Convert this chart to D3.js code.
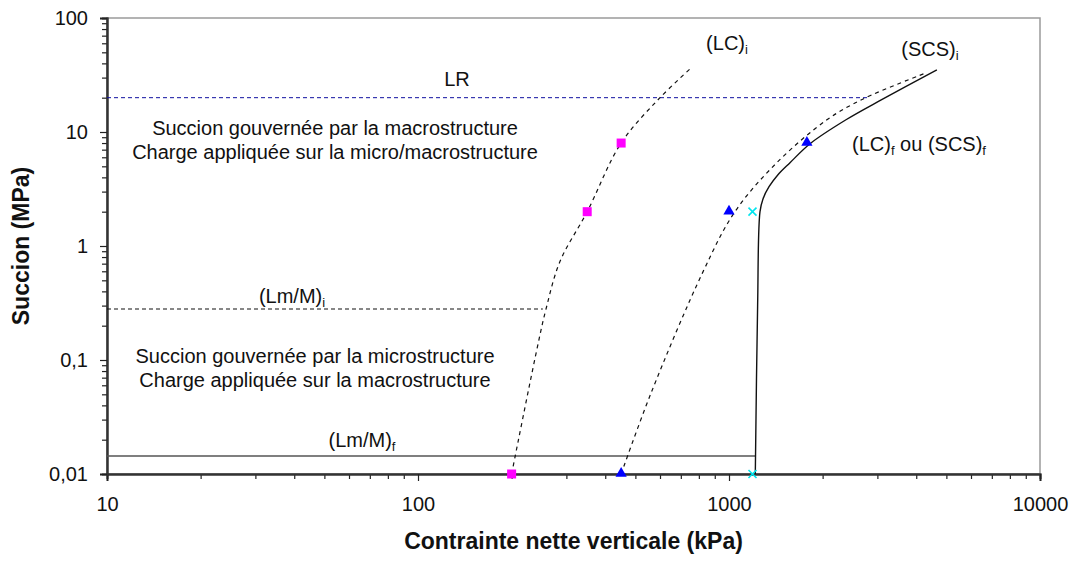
<!DOCTYPE html>
<html lang="fr">
    <head>
        <meta charset="utf-8">
        <title>Succion - contrainte nette verticale</title>
        <script src="https://d3js.org/d3.v7.min.js"></script>
        <style type="text/css">
            body{
                margin: 0;
                background: white;
            }
            text{
                font-family: "Liberation Sans", Arial, sans-serif;
                fill: #111;
            }
            .ticklab{
                font-size: 20px;
            }
            .title{
                font-size: 23px;
                font-weight: bold;
            }
            .note{
                font-size: 20px;
            }
        </style>
    </head>
    <body>
        <script type="text/javascript">

            // axis ticks
            const xTicks = [10, 100, 1000, 10000];
            const xTickLabels = ["10", "100", "1000", "10000"];
            const yTicks = [0.01, 0.1, 1, 10, 100];
            const yTickLabels = ["0,01", "0,1", "1", "10", "100"];

            // (LC)i dashed curve
            const lcInitX = [200, 241, 258, 286, 350, 450, 600, 760];
            const lcInitY = [0.01, 0.123, 0.28, 0.73, 2, 8, 20, 37];

            // (SCS)i dashed curve
            const scsInitX = [450, 561, 824, 1045, 1427, 2065, 2700, 4300];
            const scsInitY = [0.01, 0.051, 0.59, 2, 5.4, 12.8, 19.5, 33];

            // (LC)f ou (SCS)f solid curve
            const finalX = [1215, 1236, 1258, 1287, 1345, 1437, 1571, 1822, 2378, 3097, 4660];
            const finalY = [0.01, 0.3, 2, 2.6, 3.31, 4.22, 5.38, 7.89, 12.8, 19.2, 35];

            // horizontal limits
            const lrX = [10, 2800];
            const lrY = [20, 20];
            const lmInitX = [10, 252];
            const lmInitY = [0.28, 0.28];
            const lmFinalX = [10, 1215];
            const lmFinalY = [0.0144, 0.0144];

            // measured points
            const squareX = [200, 350, 450];
            const squareY = [0.01, 2, 8];
            const triangleX = [450, 1000, 1780];
            const triangleY = [0.01, 2, 8];
            const crossX = [1190, 1190];
            const crossY = [0.01, 2];

            const w = 1077;
            const h = 561;
            const margin = {top: 18, right: 37, bottom: 87, left: 107};
            const iw = w - margin.left - margin.right;
            const ih = h - margin.top - margin.bottom;

            const svg = d3.select("body")
                    .append("svg")
                    .attr("width", w)
                    .attr("height", h);

            const x = d3.scaleLog().domain([10, 10000]).range([0, iw]);
            const y = d3.scaleLog().domain([0.01, 100]).range([ih, 0]);

            const g = svg.append("g")
                    .attr("transform", "translate(" + margin.left + "," + margin.top + ")");

            // frame (top + right in grey)
            g.append("rect")
                .attr("width", iw)
                .attr("height", ih)
                .attr("fill", "none")
                .attr("stroke", "#9a9a9a")
                .attr("stroke-width", 1.5);

            // minor ticks 2..9 per decade
            const minorX = [];
            for (let d = 10; d < 10000; d *= 10) for (let k = 2; k <= 9; k++) minorX.push(d * k);
            const minorY = [];
            for (let d = 0.01; d < 99; d *= 10) for (let k = 2; k <= 9; k++) minorY.push(+(d * k).toPrecision(3));

            const xMinor = g.append("g")
                .attr("transform", "translate(0," + ih + ")")
                .call(d3.axisBottom(x).tickValues(minorX).tickSize(5).tickFormat(""));
            const xMajor = g.append("g")
                .attr("transform", "translate(0," + ih + ")")
                .call(d3.axisBottom(x).tickValues(xTicks).tickSize(7).tickPadding(16)
                    .tickFormat((d, i) => xTickLabels[i]));

            const yMinor = g.append("g")
                .call(d3.axisLeft(y).tickValues(minorY).tickSize(5).tickFormat(""));
            const yMajor = g.append("g")
                .call(d3.axisLeft(y).tickValues(yTicks).tickSize(7).tickPadding(12)
                    .tickFormat((d, i) => yTickLabels[i]));

            [xMinor, xMajor, yMinor, yMajor].forEach(a => {
                a.select(".domain").attr("stroke", "#333").attr("stroke-width", 2);
                a.selectAll(".tick line").attr("stroke", "#222").attr("stroke-width", 1.2);
                a.selectAll(".tick text").attr("class", "ticklab").attr("font-family", null).attr("font-size", null);
            });

            // lines
            const lineSmooth = d3.line()
                .x(d => x(d[0]))
                .y(d => y(d[1]))
                .curve(d3.curveCatmullRom.alpha(0.5));
            const lineStraight = d3.line()
                .x(d => x(d[0]))
                .y(d => y(d[1]));

            const zipXY = (xs, ys) => xs.map((v, i) => [v, ys[i]]);

            g.append("path")
                .attr("d", lineStraight(zipXY(lrX, lrY)))
                .attr("fill", "none")
                .attr("stroke", "#1010a0")
                .attr("stroke-width", 1)
                .attr("stroke-dasharray", "4,3");

            g.append("path")
                .attr("d", lineStraight(zipXY(lmInitX, lmInitY)))
                .attr("fill", "none")
                .attr("stroke", "#111")
                .attr("stroke-width", 1.1)
                .attr("stroke-dasharray", "4,3");

            g.append("path")
                .attr("d", lineStraight(zipXY(lmFinalX, lmFinalY)))
                .attr("fill", "none")
                .attr("stroke", "#555")
                .attr("stroke-width", 1.6);

            g.append("path")
                .attr("d", lineSmooth(zipXY(lcInitX, lcInitY)))
                .attr("fill", "none")
                .attr("stroke", "#111")
                .attr("stroke-width", 1.2)
                .attr("stroke-dasharray", "4,4");

            g.append("path")
                .attr("d", lineSmooth(zipXY(scsInitX, scsInitY)))
                .attr("fill", "none")
                .attr("stroke", "#111")
                .attr("stroke-width", 1.2)
                .attr("stroke-dasharray", "4,4");

            g.append("path")
                .attr("d", lineSmooth(zipXY(finalX, finalY)))
                .attr("fill", "none")
                .attr("stroke", "#111")
                .attr("stroke-width", 1.4);

            // markers
            g.selectAll("rect.sq")
                .data(zipXY(squareX, squareY))
                .enter()
                .append("rect")
                .attr("class", "sq")
                .attr("x", d => x(d[0]) - 4.5)
                .attr("y", d => y(d[1]) - 4.5)
                .attr("width", 9)
                .attr("height", 9)
                .attr("fill", "#ff00ff");

            const tri = d3.symbol().type(d3.symbolTriangle).size(55);
            g.selectAll("path.tri")
                .data(zipXY(triangleX, triangleY))
                .enter()
                .append("path")
                .attr("class", "tri")
                .attr("d", tri)
                .attr("transform", d => "translate(" + x(d[0]) + "," + (y(d[1]) - 0.5) + ")")
                .attr("fill", "#0000ff");

            g.selectAll("path.cross")
                .data(zipXY(crossX, crossY))
                .enter()
                .append("path")
                .attr("class", "cross")
                .attr("d", "M-4,-4L4,4M-4,4L4,-4")
                .attr("transform", d => "translate(" + x(d[0]) + "," + y(d[1]) + ")")
                .attr("stroke", "#00e5ee")
                .attr("stroke-width", 1.6);

            // labels with subscripts
            function subLabel(px, py, parts, anchor) {
                const t = svg.append("text")
                    .attr("class", "note")
                    .attr("x", px)
                    .attr("y", py)
                    .attr("text-anchor", anchor || "middle");
                parts.forEach(p => {
                    if (p.sub) {
                        t.append("tspan").attr("font-size", "13px").attr("dy", 4).text(p.sub);
                    } else {
                        t.append("tspan").attr("dy", p.back ? -4 : 0).text(p.t);
                    }
                });
            }

            subLabel(727, 50, [{t: "(LC)"}, {sub: "i"}]);
            subLabel(930, 56, [{t: "(SCS)"}, {sub: "i"}]);
            subLabel(852, 151, [{t: "(LC)"}, {sub: "f"}, {t: " ou (SCS)", back: true}, {sub: "f"}], "start");
            subLabel(292, 303, [{t: "(Lm/M)"}, {sub: "i"}]);
            subLabel(362, 447, [{t: "(Lm/M)"}, {sub: "f"}]);

            svg.append("text").attr("class", "note")
                .attr("x", 457).attr("y", 86).attr("text-anchor", "middle").text("LR");

            const notes = [
                ["Succion gouvernée par la macrostructure", 335, 135],
                ["Charge appliquée sur la micro/macrostructure", 335, 159],
                ["Succion gouvernée par la microstructure", 315, 363],
                ["Charge appliquée sur la macrostructure", 315, 387]
            ];
            notes.forEach(n => {
                svg.append("text").attr("class", "note")
                    .attr("x", n[1]).attr("y", n[2])
                    .attr("text-anchor", "middle")
                    .text(n[0]);
            });

            // axis titles
            svg.append("text")
                .attr("class", "title")
                .attr("text-anchor", "middle")
                .attr("x", margin.left + iw / 2)
                .attr("y", 549)
                .text("Contrainte nette verticale (kPa)");

            svg.append("text")
                .attr("class", "title")
                .attr("text-anchor", "middle")
                .attr("transform", "translate(29," + (margin.top + ih / 2) + ") rotate(-90)")
                .text("Succion (MPa)");

        </script>
    </body>
</html>
